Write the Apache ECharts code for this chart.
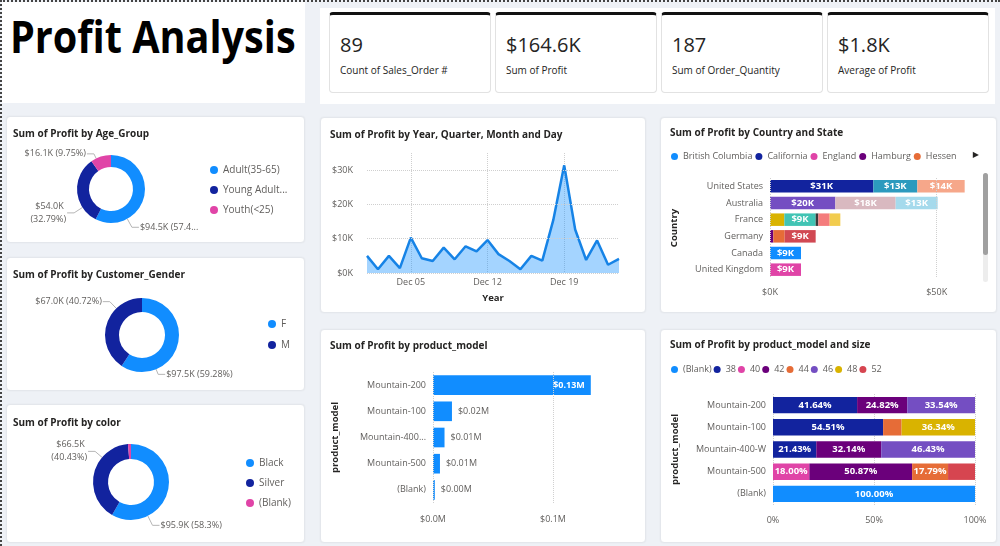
<!DOCTYPE html>
<html><head><meta charset="utf-8">
<script src="https://cdn.jsdelivr.net/npm/echarts@6/dist/echarts.min.js"></script>
<style>
html,body{margin:0;padding:0;width:1000px;height:546px;overflow:hidden;background:#eef1f6;font-family:"Open Sans",sans-serif;}
.abs{position:absolute;}
.card{position:absolute;background:#fff;border:1px solid #e4e7ec;border-radius:4px;box-shadow:0 0 2px rgba(0,0,0,0.06);box-sizing:border-box;}
.kpi{position:absolute;top:12px;width:162px;height:81px;background:#fff;border:1px solid #e2e2e2;border-top:3px solid #111;border-radius:4px;box-sizing:border-box;}
.kv{position:absolute;font-size:20px;line-height:20px;color:#252423;white-space:nowrap;}
.kl{position:absolute;font-size:10px;line-height:10px;color:#252423;white-space:nowrap;}
.chart{position:absolute;left:0;top:0;width:100%;height:100%;}
</style></head>
<body>
<div class="abs" style="left:0;top:0;width:1000px;height:0;border-top:2px dotted #444;"></div>
<div class="abs" style="left:0;top:0;width:0;height:546px;border-left:2px dotted #444;"></div>
<div class="abs" style="left:2px;top:2px;width:303px;height:101px;background:#fff;"></div>
<div class="abs" id="title" style="left:10px;top:14px;font-size:44px;line-height:44px;font-weight:bold;color:#000;transform:scaleX(0.9);transform-origin:0 0;white-space:nowrap;"></div>
<div class="abs" style="left:320px;top:8px;width:675px;height:96px;background:#fff;"></div>
<div id="kpis"></div>

<div class="card" style="left:6px;top:116px;width:299px;height:127px;"><div id="cAge" class="chart"></div></div>
<div class="card" style="left:6px;top:257px;width:299px;height:134px;"><div id="cGender" class="chart"></div></div>
<div class="card" style="left:6px;top:404px;width:299px;height:139px;"><div id="cColor" class="chart"></div></div>
<div class="card" style="left:320px;top:117px;width:326px;height:196px;"><div id="cLine" class="chart"></div></div>
<div class="card" style="left:660px;top:117px;width:337px;height:196px;"><div id="cCountry" class="chart"></div></div>
<div class="card" style="left:320px;top:329px;width:326px;height:214px;"><div id="cModel" class="chart"></div></div>
<div class="card" style="left:660px;top:329px;width:337px;height:214px;"><div id="cSize" class="chart"></div></div>
<div class="abs" style="left:983px;top:173px;width:5px;height:109px;background:#ededed;border-radius:3px;"></div>
<div class="abs" style="left:983px;top:173px;width:5px;height:82px;background:#a0a0a0;border-radius:3px;"></div>

<script>
// ---------- data ----------
const pageTitle = 'Profit Analysis';
const kpiValues = ['89', '$164.6K', '187', '$1.8K'];
const kpiLabels = ['Count of Sales_Order #', 'Sum of Profit', 'Sum of Order_Quantity', 'Average of Profit'];

const ageNames = ['Adult(35-65)', 'Young Adults (25-34)', 'Youth(<25)'];
const ageProfit = [94540, 53955, 16051];

const genderNames = ['F', 'M'];
const genderProfit = [97510, 66990];

const colorNames = ['Black', 'Silver', '(Blank)'];
const colorProfit = [95900, 66510, 2090];

const dayLabels = ['Dec 01','Dec 02','Dec 03','Dec 04','Dec 05','Dec 06','Dec 07','Dec 08','Dec 09','Dec 10','Dec 11','Dec 12',
  'Dec 13','Dec 14','Dec 15','Dec 16','Dec 17','Dec 18','Dec 19','Dec 20','Dec 21','Dec 22','Dec 23','Dec 24'];
const dayProfit = [5000,1100,5000,1400,10300,4300,3500,7400,4000,7800,6300,9600,5500,3500,1100,5000,3600,15400,31400,12700,3800,9500,2400,4100];

const countries = ['United States','Australia','France','Germany','Canada','United Kingdom'];
const stateNames = ['British Columbia','California','England','Hamburg','Hessen','Moselle','New South Wales','Nord','Oregon',
  'Queensland','Saarland','Seine (Paris)','Seine Saint Denis','Victoria','Washington','Yveline'];
const stateCountry = ['Canada','United States','United Kingdom','Germany','Germany','France','Australia','France','United States',
  'Australia','Germany','France','France','Australia','United States','France'];
const stateProfit = [9300,31000,9300,1000,3400,4300,19600,9400,13200,18100,9300,800,3400,12600,14200,3200];
const stateColors = ['#118DFF','#12239E','#E044A7','#6B007B','#E66C37','#D9B300','#744EC2','#41C4B4','#2C9ABE',
  '#D9B9C0','#D14953','#3A3A3A','#F47C7C','#A5DAEC','#F6A78A','#F2CC4E'];

const models = ['Mountain-200','Mountain-100','Mountain-400-W','Mountain-500','(Blank)'];
const modelProfit = [131500, 15800, 9600, 5800, 1500];

const sizes = ['(Blank)','38','40','42','44','46','48','52'];
const sizeShares = [ // percent of each product_model row, per size
  [null, null, null, null, 100],
  [41.64, 54.51, 21.43, null, null],
  [null, null, null, 18.00, null],
  [24.82, null, 32.14, 50.87, null],
  [null, 9.15, null, 17.79, null],
  [33.54, null, 46.43, null, null],
  [null, 36.34, null, null, null],
  [null, null, null, 13.34, null]
];
const sizeColors = ['#118DFF','#12239E','#E044A7','#6B007B','#E66C37','#744EC2','#D9B300','#D64550'];
const pieColors = ['#118DFF','#12239E','#E044A7'];

// ---------- html text ----------
document.getElementById('title').textContent = pageTitle;
const kpiLeft = [329, 495, 661, 827];
let kh = '';
kpiValues.forEach((v, i) => {
  kh += '<div class="kpi" style="left:' + kpiLeft[i] + 'px"></div>';
  kh += '<div class="kv" style="left:' + (kpiLeft[i] + 11) + 'px;top:35px">' + v + '</div>';
  kh += '<div class="kl" style="left:' + (kpiLeft[i] + 11) + 'px;top:65px">' + kpiLabels[i] + '</div>';
});
document.getElementById('kpis').innerHTML = kh;

// ---------- helpers ----------
const FONT = '"Open Sans", sans-serif';
const GRAY = '#605E5C';
const DARK = '#252423';
function titleOpt(text, left, top) {
  return { text: text, left: left, top: top, padding: 0,
    textStyle: { fontFamily: FONT, fontSize: 10, fontWeight: 'bold', color: DARK } };
}
function kfmt(v) { return '$' + (v / 1000).toFixed(1) + 'K'; }
function pct(p) { return parseFloat(p.toFixed(2)) + '%'; }

function pieChart(id, title, names, values, labelStyles, cfg) {
  const ch = echarts.init(document.getElementById(id));
  ch.setOption({
    animation: false,
    color: pieColors,
    textStyle: { fontFamily: FONT },
    title: titleOpt(title, 6, cfg.titleTop),
    legend: { orient: 'vertical', left: cfg.legendLeft, top: cfg.legendTop, padding: 0,
      itemWidth: 8, itemHeight: 8, itemGap: cfg.legendGap, icon: 'circle',
      textStyle: { fontFamily: FONT, fontSize: 10, color: GRAY, width: 66, overflow: 'truncate', ellipsis: '...' } },
    series: [{
      type: 'pie', center: cfg.center, radius: cfg.radius, startAngle: 90, clockwise: true,
      minShowLabelAngle: 6,
      label: { show: true, position: 'outside', fontFamily: FONT, fontSize: 9, color: GRAY, lineHeight: 13,
        formatter: p => kfmt(p.value) + ' (' + pct(p.percent) + ')' },
      labelLine: { show: true, length: 6, length2: 8, lineStyle: { color: '#b5b5b5', width: 1 } },
      labelLayout: function (params) {
        const sh = cfg.labelShift[params.dataIndex];
        if (!sh) return {};
        const r = params.labelRect;
        const nx = r.x + sh[0], ny = r.y + sh[1];
        const isLeft = (r.x + r.width / 2) < cfg.center[0];
        const midY = ny + r.height / 2;
        const p2 = isLeft ? [nx + r.width + 1, midY] : [nx - 1, midY];
        const p1 = [p2[0] + (isLeft ? 7 : -7), midY];
        const vx = p1[0] - cfg.center[0], vy = p1[1] - cfg.center[1];
        const d = Math.sqrt(vx * vx + vy * vy);
        const R = cfg.radius[1];
        const p0 = [cfg.center[0] + R * vx / d, cfg.center[1] + R * vy / d];
        return { dx: sh[0], dy: sh[1], labelLinePoints: [p0, p1, p2] };
      },
      emphasis: { disabled: true },
      data: names.map((n, i) => Object.assign({ name: n, value: values[i] }, labelStyles[i] ? { label: labelStyles[i] } : {}))
    }]
  });
}

pieChart('cAge', 'Sum of Profit by Age_Group', ageNames, ageProfit,
  [{ width: 64, overflow: 'truncate', ellipsis: '...' }, { width: 40, overflow: 'break' }, null],
  { titleTop: 12, legendLeft: 203, legendTop: 48, legendGap: 10, center: [104, 72], radius: [22, 34],
    labelShift: [[-23, 29], [8, 21], [0, 3]] });
pieChart('cGender', 'Sum of Profit by Customer_Gender', genderNames, genderProfit, [null, null],
  { titleTop: 12, legendLeft: 261, legendTop: 61, legendGap: 11, center: [135, 77], radius: [23, 37],
    labelShift: [[-30, 27], [14, -21]] });
pieChart('cColor', 'Sum of Profit by color', colorNames, colorProfit, [null, { width: 40, overflow: 'break' }, null],
  { titleTop: 13, legendLeft: 239, legendTop: 53, legendGap: 10, center: [124, 77], radius: [23, 38],
    labelShift: [[-26, 32], [12, -21], null] });

// ---------- line ----------
(function () {
  const ch = echarts.init(document.getElementById('cLine'));
  ch.setOption({
    animation: false,
    textStyle: { fontFamily: FONT },
    title: titleOpt('Sum of Profit by Year, Quarter, Month and Day', 9, 12),
    grid: { left: 46, right: 26, top: 35, bottom: 39 },
    xAxis: { type: 'category', data: dayLabels, boundaryGap: false,
      name: 'Year', nameLocation: 'middle', nameGap: 20,
      nameTextStyle: { fontFamily: FONT, fontSize: 9.5, fontWeight: 'bold', color: DARK },
      axisLine: { show: false }, axisTick: { show: false },
      axisLabel: { interval: (i) => i % 7 === 4, margin: 5, fontSize: 9, color: GRAY, fontFamily: FONT },
      splitLine: { show: true, interval: (i) => i % 7 === 4, lineStyle: { type: 'dotted', color: '#cfcfcf' } } },
    yAxis: { type: 'value', min: 0, max: 35000, interval: 10000,
      axisLine: { show: false }, axisTick: { show: false }, splitLine: { show: false },
      axisLabel: { margin: 14, fontSize: 9, color: GRAY, fontFamily: FONT,
        formatter: v => (v % 10000 === 0 ? '$' + v / 1000 + 'K' : '') } },
    series: [{ type: 'line', data: dayProfit, symbol: 'none',
      lineStyle: { color: '#1683E6', width: 2.5 },
      areaStyle: { color: '#118DFF', opacity: 0.38 },
      markLine: { silent: true, symbol: 'none', label: { show: false },
        lineStyle: { type: 'dotted', color: '#cfcfcf', width: 1 },
        data: [{ yAxis: 0 }, { yAxis: 10000 }, { yAxis: 20000 }, { yAxis: 30000 }] } }]
  });
})();

// ---------- country / state ----------
(function () {
  const ch = echarts.init(document.getElementById('cCountry'));
  const series = stateNames.map((s, i) => ({
    type: 'bar', name: s, stack: 'total', barCategoryGap: '25%',
    itemStyle: { color: stateColors[i] },
    emphasis: { disabled: true },
    label: { show: true, position: 'inside', color: '#fff', fontSize: 9.5, fontWeight: 'bold', fontFamily: FONT,
      formatter: p => (p.value >= 6000 ? '$' + Math.round(p.value / 1000) + 'K' : '') },
    data: countries.map(c => (c === stateCountry[i] ? stateProfit[i] : null))
  }));
  series[0].markLine = { silent: true, symbol: 'none', label: { show: false },
    lineStyle: { type: 'dotted', color: '#d0d0d0', width: 1 }, data: [{ xAxis: 0 }, { xAxis: 50000 }] };
  ch.setOption({
    animation: false,
    textStyle: { fontFamily: FONT },
    title: titleOpt('Sum of Profit by Country and State', 9, 10),
    legend: { data: stateNames.slice(0, 5), left: 10, top: 34, padding: 0, icon: 'circle', itemWidth: 7, itemHeight: 7, itemGap: 3,
      textStyle: { fontFamily: FONT, fontSize: 9, color: GRAY } },
    graphic: [{ type: 'text', right: 17, top: 33, style: { text: '\u25B6', fontSize: 8, fill: '#252423', fontFamily: 'DejaVu Sans' } }],
    grid: { left: 108, right: 26, top: 60, bottom: 34 },
    xAxis: { type: 'value', min: 0, max: 60000, interval: 50000,
      axisLine: { show: false }, axisTick: { show: false }, splitLine: { show: false },
      axisLabel: { margin: 10, fontSize: 9, color: GRAY, fontFamily: FONT,
        formatter: v => (v % 50000 === 0 ? '$' + v / 1000 + 'K' : '') } },
    yAxis: { type: 'category', data: countries, inverse: true,
      name: 'Country', nameLocation: 'middle', nameGap: 91, nameRotate: 90,
      nameTextStyle: { fontFamily: FONT, fontSize: 9.5, fontWeight: 'bold', color: DARK },
      axisLine: { show: false }, axisTick: { show: false },
      axisLabel: { margin: 7, fontSize: 9, color: GRAY, fontFamily: FONT } },
    series: series
  });
})();

// ---------- product model ----------
(function () {
  const ch = echarts.init(document.getElementById('cModel'));
  ch.setOption({
    animation: false,
    textStyle: { fontFamily: FONT },
    title: titleOpt('Sum of Profit by product_model', 9, 11),
    grid: { left: 112, right: 44, top: 42, bottom: 39 },
    xAxis: { type: 'value', min: 0, max: 140000, interval: 100000,
      axisLine: { show: false }, axisTick: { show: false }, splitLine: { show: false },
      axisLabel: { margin: 12, fontSize: 9, color: GRAY, fontFamily: FONT,
        formatter: v => (v % 100000 === 0 ? '$' + (v / 1e6).toFixed(1) + 'M' : '') } },
    yAxis: { type: 'category', data: models, inverse: true,
      name: 'product_model', nameLocation: 'middle', nameGap: 93, nameRotate: 90,
      nameTextStyle: { fontFamily: FONT, fontSize: 9.5, fontWeight: 'bold', color: DARK },
      axisLine: { show: false }, axisTick: { show: false },
      axisLabel: { margin: 7, fontSize: 9, color: GRAY, fontFamily: FONT, width: 67, overflow: 'truncate', ellipsis: '...' } },
    series: [{ type: 'bar', barCategoryGap: '25%', itemStyle: { color: '#118DFF' }, emphasis: { disabled: true },
      label: { show: true, position: 'right', distance: 6, fontSize: 9, color: GRAY, fontFamily: FONT,
        formatter: p => '$' + (p.value / 1e6).toFixed(2) + 'M' },
      data: modelProfit.map(v => (v > 100000 ? { value: v, label: { position: 'insideRight', color: '#fff', fontWeight: 'bold' } } : v)),
      markLine: { silent: true, symbol: 'none', label: { show: false },
        lineStyle: { type: 'dotted', color: '#d0d0d0', width: 1 }, data: [{ xAxis: 0 }, { xAxis: 100000 }] } }]
  });
})();

// ---------- product model and size ----------
(function () {
  const ch = echarts.init(document.getElementById('cSize'));
  ch.setOption({
    animation: false,
    textStyle: { fontFamily: FONT },
    title: titleOpt('Sum of Profit by product_model and size', 9, 10),
    legend: { data: sizes, left: 10, top: 35, padding: 0, icon: 'circle', itemWidth: 7, itemHeight: 7, itemGap: 2,
      textStyle: { fontFamily: FONT, fontSize: 9, color: GRAY } },
    grid: { left: 112, right: 21, top: 64, bottom: 37 },
    xAxis: { type: 'value', min: 0, max: 100, interval: 50,
      axisLine: { show: false }, axisTick: { show: false },
      splitLine: { show: true, lineStyle: { type: 'dotted', color: '#d0d0d0' } },
      axisLabel: { margin: 11, fontSize: 9, color: GRAY, fontFamily: FONT, formatter: v => v + '%' } },
    yAxis: { type: 'category', data: models, inverse: true,
      name: 'product_model', nameLocation: 'middle', nameGap: 93, nameRotate: 90,
      nameTextStyle: { fontFamily: FONT, fontSize: 9.5, fontWeight: 'bold', color: DARK },
      axisLine: { show: false }, axisTick: { show: false },
      axisLabel: { margin: 7, fontSize: 9, color: GRAY, fontFamily: FONT } },
    series: sizes.map((s, i) => ({
      type: 'bar', name: s, stack: 'total', barCategoryGap: '26%',
      itemStyle: { color: sizeColors[i] }, emphasis: { disabled: true },
      label: { show: true, position: 'inside', color: '#fff', fontSize: 9.5, fontWeight: 'bold', fontFamily: FONT,
        formatter: p => (p.value >= 15 ? p.value.toFixed(2) + '%' : '') },
      data: sizeShares[i]
    }))
  });
})();
</script>
</body></html>
